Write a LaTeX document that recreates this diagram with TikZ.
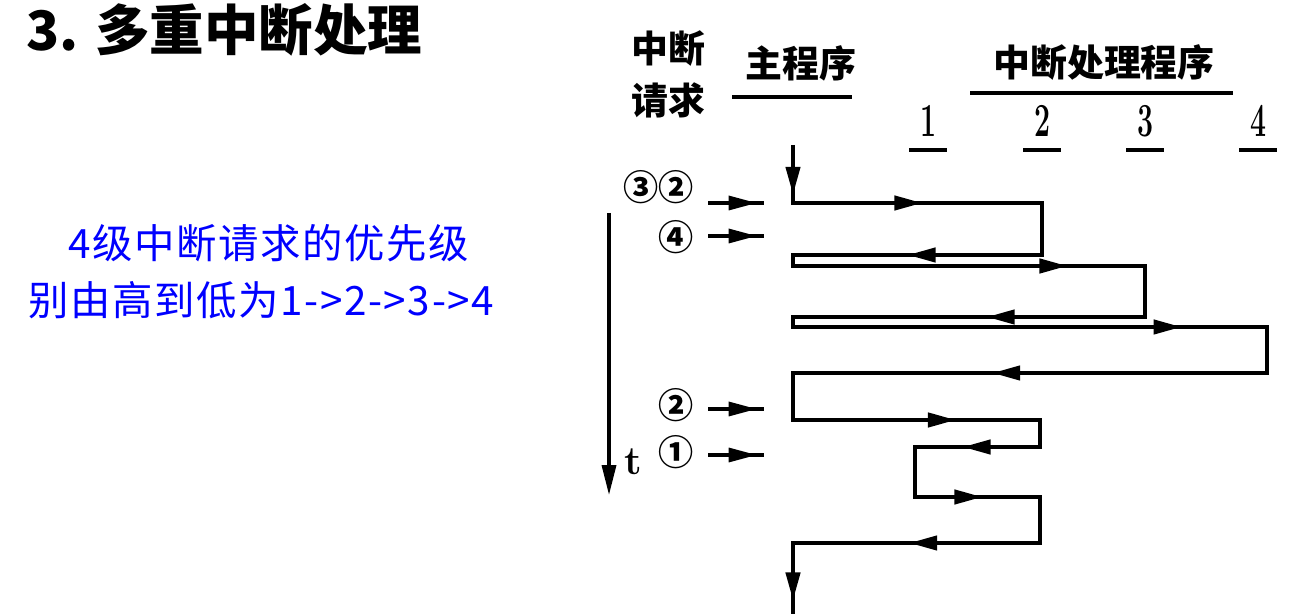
\documentclass[tikz,border=0pt]{standalone}
\usepackage{fontspec}
\newfontfamily\cjk{Noto Sans CJK SC}
\newfontfamily\cjkblue[LetterSpace=4]{Noto Sans CJK SC}
\usetikzlibrary{arrows.meta,decorations.markings}

\tikzset{
  flowtip/.tip={Triangle[length=16pt,width=8pt]},
  flow/.style={line width=2.4pt},
  req/.style={line width=1.8pt},
  uline/.style={line width=1.8pt},
  midtip/.style={postaction={decorate},
    decoration={markings,mark=at position #1 with {\arrow{flowtip}}}},
  circ/.style={inner sep=0pt,font=\cjk\bfseries\fontsize{20pt}{20pt}\selectfont},
  head/.style={inner sep=0pt,font=\cjk\bfseries\fontsize{21pt}{29.6pt}\selectfont},
  numlab/.style={inner sep=0pt,xscale=0.6,font=\bfseries\fontsize{27pt}{27pt}\selectfont},
}

\begin{document}
\begin{tikzpicture}[x=0.02cm,y=-0.02cm]
\useasboundingbox (0,0) rectangle (1301,614);

% title and note
\node[anchor=west,inner sep=0pt] (title) at (26,30) {\cjk\bfseries\fontsize{31pt}{31pt}\selectfont 3. 多重中断处理};
\node[anchor=west,inner sep=0pt,text=blue] (note1) at (68,243) {\cjkblue\fontsize{23pt}{23pt}\selectfont 4级中断请求的优先级};
\node[anchor=west,inner sep=0pt,text=blue] (note2) at (28,300) {\cjkblue\fontsize{23pt}{23pt}\selectfont 别由高到低为1->2->3->4};

% column heads
\node[head,align=center] (reqhead) at (668,74) {中断\\请求};
\node[head] (mainhead) at (801,63) {主程序};
\node[head] (isrhead) at (1104,63) {中断处理程序};
\draw[uline] (732,97) -- (852,97);
\draw[uline] (970,93) -- (1233,93);
\foreach \n/\x in {1/928,2/1042,3/1145,4/1258} {
  \node[numlab] (isr\n) at (\x,121) {\n};
  \draw[uline] (\x-19,150) -- (\x+19,150);
}

% time axis
\draw[req,-{Triangle[length=17pt,width=8pt]}] (609,213) -- (609,495);
\node[inner sep=0pt,font=\bfseries\fontsize{23pt}{23pt}\selectfont] (t) at (633,462) {t};

% requests
\foreach \lab/\y/\ly [count=\i] in {③②/203/187,④/236/237,②/409/405,①/455/452} {
  \node[circ,anchor=east] (rq\i) at (694,\ly) {\lab};
  \draw[req,midtip=0.87] (708,\y) -- (764,\y);
}

% program flow
\draw[flow] (793,145) -- (793,203) -- (1042,203) -- (1042,255) -- (793,255)
  -- (793,266) -- (1145,266) -- (1145,317) -- (793,317) -- (793,327)
  -- (1267,327) -- (1267,373) -- (793,373) -- (793,420) -- (1040,420)
  -- (1040,447) -- (915,447) -- (915,497) -- (1040,497) -- (1040,543)
  -- (793,543) -- (793,614);
\foreach \xa/\ya/\xb/\yb/\p in {793/145/793/203/0.86, 793/203/1042/203/0.52,
  1042/255/793/255/0.54, 793/266/1145/266/0.78, 1145/317/793/317/0.45,
  793/327/1267/327/0.82, 1267/373/793/373/0.58, 793/420/1040/420/0.66,
  1040/447/915/447/0.62, 915/497/1040/497/0.54, 1040/543/793/543/0.53,
  793/543/793/614/0.81}
  \path[flow,midtip=\p] (\xa,\ya) -- (\xb,\yb);
\end{tikzpicture}
\end{document}
